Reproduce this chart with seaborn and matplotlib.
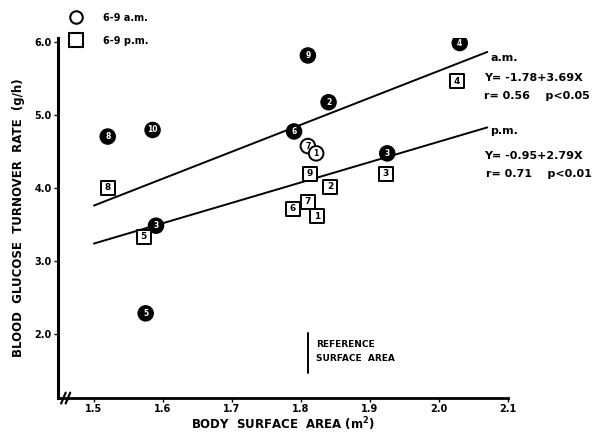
import numpy as np
import pandas as pd
import matplotlib
matplotlib.use("Agg")
import matplotlib.pyplot as plt
from matplotlib.lines import Line2D
import seaborn as sns

# ---- data ----
am_labels = ["8", "10", "5", "3", "9", "2", "6", "7", "1", "3", "4"]
am_x = [1.52, 1.585, 1.575, 1.59, 1.81, 1.84, 1.79, 1.81, 1.822, 1.925, 2.03]
am_y = [4.70, 4.79, 2.28, 3.48, 5.81, 5.17, 4.77, 4.57, 4.47, 4.47, 5.98]
am_filled = [True, True, True, True, True, True, True, False, False, True, True]

pm_labels = ["8", "5", "9", "2", "6", "7", "1", "3", "4"]
pm_x = [1.52, 1.572, 1.813, 1.842, 1.788, 1.81, 1.823, 1.923, 2.026]
pm_y = [4.00, 3.33, 4.19, 4.01, 3.71, 3.81, 3.61, 4.19, 5.46]

am_intercept, am_slope = -1.78, 3.69
pm_intercept, pm_slope = -0.95, 2.79
line_range = [1.5, 2.07]

x_ticks = [1.5, 1.6, 1.7, 1.8, 1.9, 2.0, 2.1]
x_tick_labels = ["1.5", "1.6", "1.7", "1.8", "1.9", "2.0", "2.1"]
y_ticks = [2.0, 3.0, 4.0, 5.0, 6.0]
y_tick_labels = ["2.0", "3.0", "4.0", "5.0", "6.0"]
reference_area = 1.81

sns.set_style("white")
plt.rcParams["font.family"] = ["DejaVu Sans"]
plt.rcParams.update({"text.color": "black", "axes.labelcolor": "black",
                     "xtick.color": "black", "ytick.color": "black"})

fig = plt.figure(figsize=(6, 4.36), dpi=100)
ax = fig.add_axes([0.0967, 0.087, 0.75, 0.826])

am_df = pd.DataFrame({"x": am_x, "y": am_y, "filled": am_filled, "label": am_labels})
pm_df = pd.DataFrame({"x": pm_x, "y": pm_y, "label": pm_labels})

# regression lines from the printed equations
lx = np.array(line_range)
sns.lineplot(x=lx, y=am_intercept + am_slope * lx, ax=ax, color="black", lw=1.4)
sns.lineplot(x=lx, y=pm_intercept + pm_slope * lx, ax=ax, color="black", lw=1.4)

sns.scatterplot(data=pm_df, x="x", y="y", marker="s", s=110, color="white",
                edgecolor="black", linewidth=1.4, ax=ax, zorder=3, legend=False)
sns.scatterplot(data=am_df, x="x", y="y", hue="filled", marker="o", s=110,
                palette={True: "black", False: "white"}, edgecolor="black",
                linewidth=1.4, ax=ax, zorder=4, legend=False)

for _, r in pm_df.iterrows():
    ax.text(r["x"], r["y"], r["label"], ha="center", va="center", fontsize=6.5,
            fontweight="bold", color="black", zorder=5)
for _, r in am_df.iterrows():
    ax.text(r["x"], r["y"], r["label"], ha="center", va="center", fontsize=5.5,
            fontweight="bold", color="white" if r["filled"] else "black", zorder=6)

ax.set_xlim(1.448, 2.1)
ax.set_ylim(1.12, 6.05)
ax.set_xticks(x_ticks)
ax.set_xticklabels(x_tick_labels, fontsize=7, fontweight="bold")
ax.set_yticks(y_ticks)
ax.set_yticklabels(y_tick_labels, fontsize=7, fontweight="bold")
ax.tick_params(axis="both", direction="out", length=3, width=1, pad=1.5, color="black")
ax.xaxis.set_ticks_position("bottom")
ax.yaxis.set_ticks_position("left")
ax.grid(False)
for s in ["top", "right"]:
    ax.spines[s].set_visible(False)
ax.spines["left"].set_linewidth(2.2)
ax.spines["bottom"].set_linewidth(2.0)
ax.spines["left"].set_color("black")
ax.spines["bottom"].set_color("black")
ax.set_xlabel("BODY  SURFACE  AREA (m$^\\mathbf{2}$)", fontsize=8.5, fontweight="bold", labelpad=1)
ax.set_ylabel("BLOOD  GLUCOSE  TURNOVER  RATE  (g/h)", fontsize=8.5, fontweight="bold", labelpad=7)

# axis break marks
for dx in (0.012, 0.022):
    ax.plot([dx - 0.005, dx + 0.005], [-0.015, 0.015], transform=ax.transAxes,
            color="black", lw=1.6, clip_on=False)

# equations and labels
tk = dict(fontsize=8, fontweight="bold", color="black", ha="left", va="center")
ax.text(2.074, 5.77, "a.m.", **tk)
ax.text(2.065, 5.50, "Y= -1.78+3.69X", clip_on=False, **tk)
ax.text(2.065, 5.25, "r= 0.56    p<0.05", clip_on=False, **tk)
ax.text(2.074, 4.78, "p.m.", clip_on=False, **tk)
ax.text(2.065, 4.44, "Y= -0.95+2.79X", clip_on=False, **tk)
ax.text(2.068, 4.19, "r= 0.71    p<0.01", clip_on=False, **tk)

# reference surface area marker
ax.plot([reference_area, reference_area], [1.47, 2.01], color="black", lw=1.4)
ax.text(reference_area + 0.012, 1.86, "REFERENCE", fontsize=6.5, fontweight="bold", va="center")
ax.text(reference_area + 0.012, 1.66, "SURFACE  AREA", fontsize=6.5, fontweight="bold", va="center")

handles = [
    Line2D([], [], marker="o", ls="", markersize=9, markerfacecolor="white",
           markeredgecolor="black", markeredgewidth=1.5, label="6-9 a.m."),
    Line2D([], [], marker="s", ls="", markersize=10, markerfacecolor="white",
           markeredgecolor="black", markeredgewidth=1.5, label="6-9 p.m."),
]
leg = fig.legend(handles=handles, loc="upper left", bbox_to_anchor=(0.092, 0.995),
                 frameon=False, prop={"size": 7, "weight": "bold"},
                 labelspacing=1.3, handletextpad=1.8, borderpad=0.6)

fig.savefig("out.png", dpi=100, facecolor="white")
